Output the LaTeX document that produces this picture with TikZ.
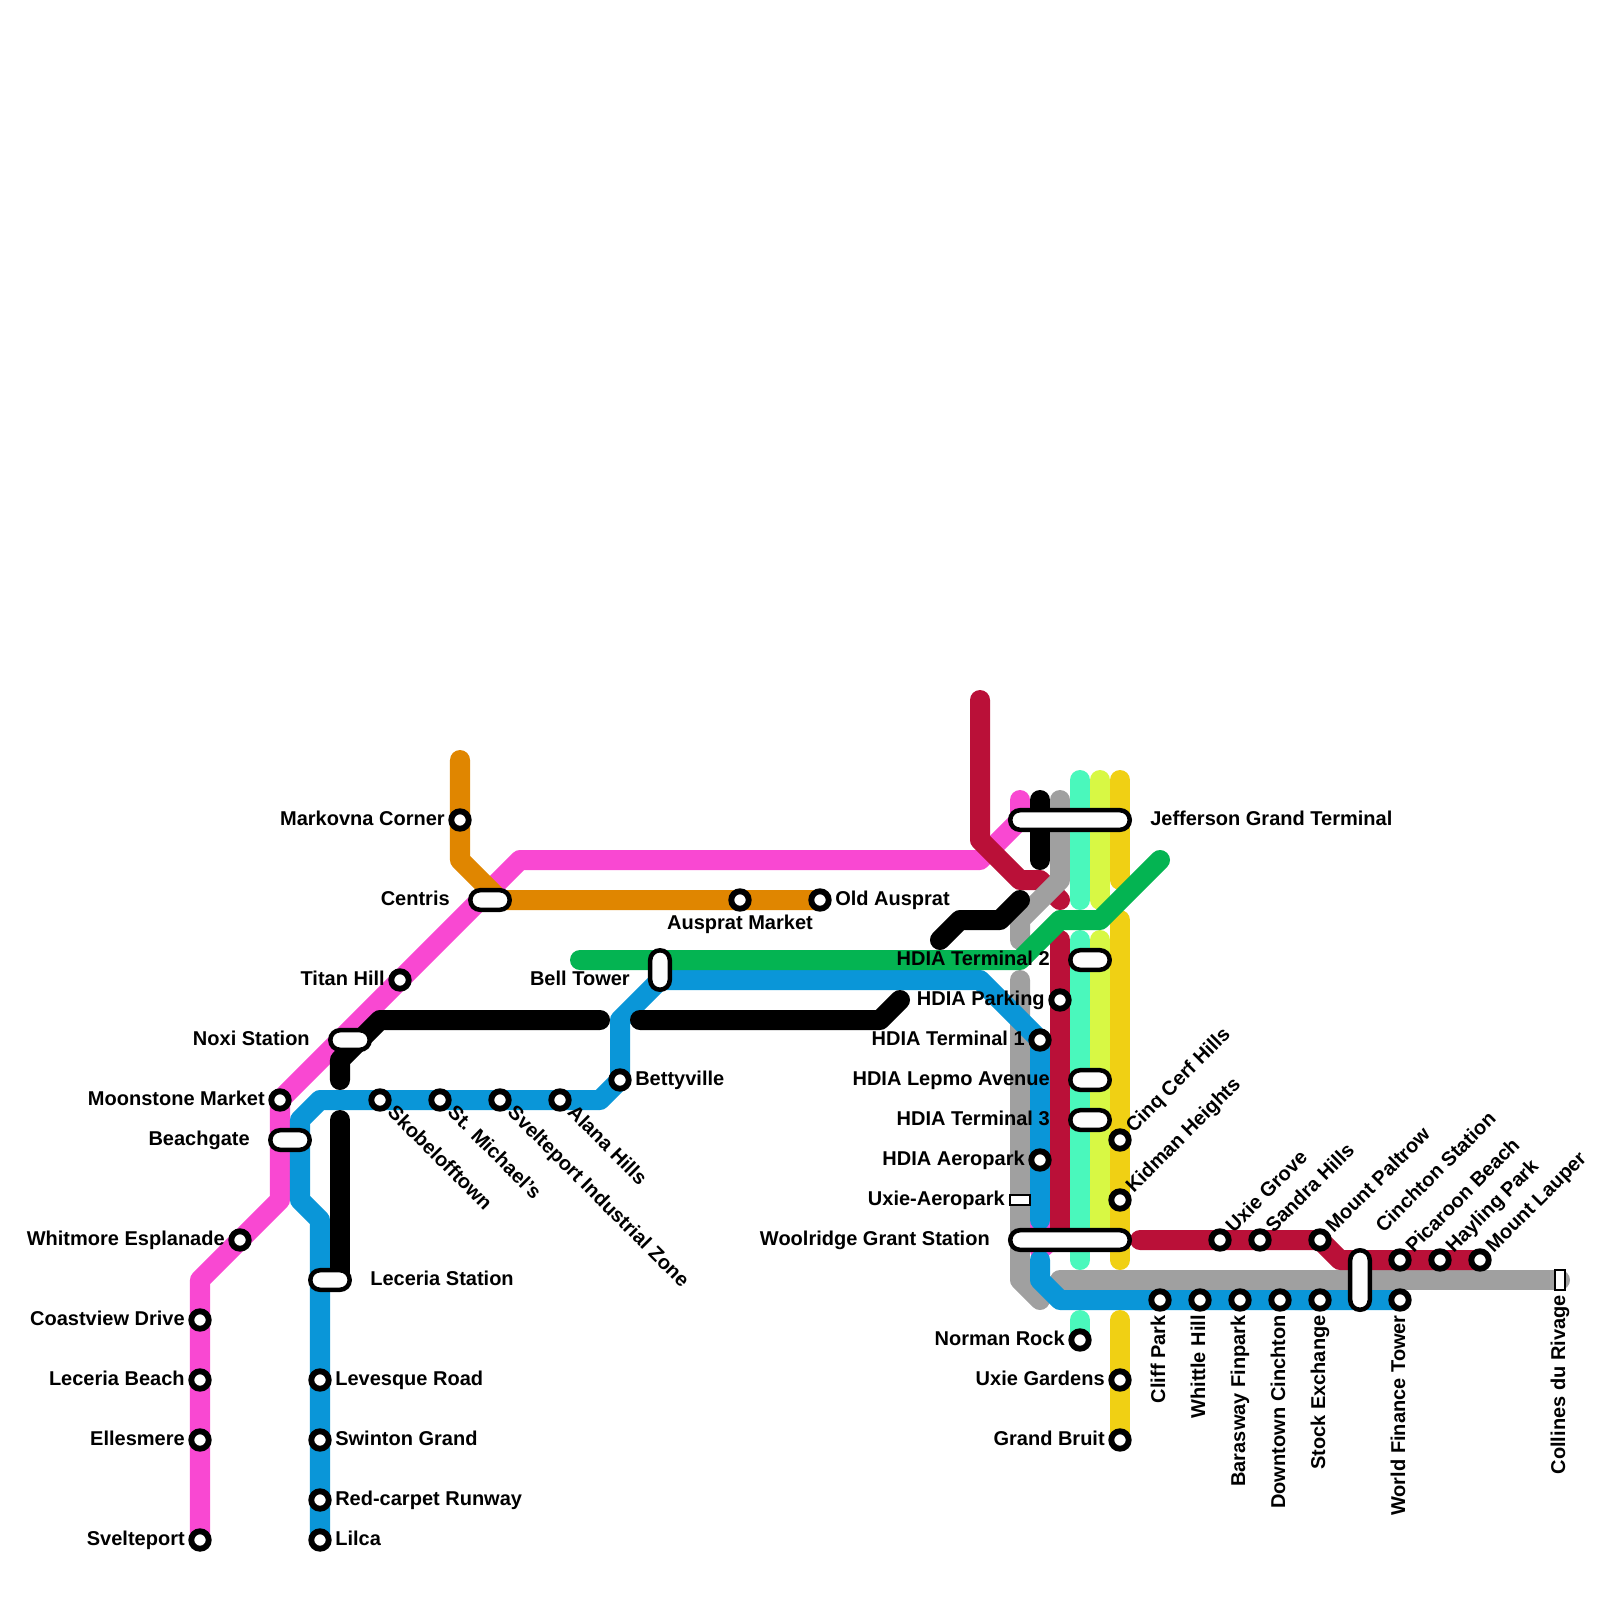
\documentclass[tikz,border=0pt]{standalone}
\usepackage{fontspec}
\setmainfont{Liberation Sans}
\usetikzlibrary{backgrounds}
\definecolor{metropink}{RGB}{249,72,210}
\definecolor{metroblue}{RGB}{10,150,216}
\definecolor{metrored}{RGB}{186,16,56}
\definecolor{metroorange}{RGB}{224,134,0}
\definecolor{metrogreen}{RGB}{4,180,82}
\definecolor{metromint}{RGB}{74,248,188}
\definecolor{metrolime}{RGB}{216,248,68}
\definecolor{metroyellow}{RGB}{240,208,20}
\definecolor{metrogrey}{RGB}{160,160,160}
\tikzset{
    metroline/.style={line width=14.23pt, line cap=round, line join=round, color=#1},
    stop/.style={circle, draw=black, fill=white, line width=4.2pt, minimum size=12.4pt, inner sep=0pt},
    hub/.style={rectangle, rounded corners=6.9pt, draw=black, fill=white, line width=3.2pt, minimum width=#1, minimum height=13.9pt, inner sep=0pt},
    vhub/.style={rectangle, rounded corners=6.9pt, draw=black, fill=white, line width=3.2pt, minimum height=#1, minimum width=13.9pt, inner sep=0pt},
    smallstop/.style={rectangle, draw=black, fill=white, line width=1.5pt, inner sep=0pt},
    lbl/.style={font=\bfseries\fontsize{14.23}{16}\selectfont, inner sep=0pt, text=black, text height=10.2pt, text depth=3pt},
    lblleft/.style={lbl, anchor=east},
    lblright/.style={lbl, anchor=west},
    lblup/.style={lbl, anchor=west, rotate=45},
    lbldown/.style={lbl, anchor=west, rotate=-45},
    lblvert/.style={lbl, anchor=east, rotate=90}
}
\begin{document}
\begin{tikzpicture}[x=0.025cm, y=-0.025cm]
    \useasboundingbox (0,0) rectangle (1600,1600);
    % stations
    \node[stop] (svelteport) at (200,1540) {};
    \node[stop] (ellesmere) at (200,1440) {};
    \node[stop] (leceriabeach) at (200,1380) {};
    \node[stop] (coastview) at (200,1320) {};
    \node[stop] (whitmore) at (240,1240) {};
    \node[stop] (moonstone) at (280,1100) {};
    \node[stop] (titanhill) at (400,980) {};
    \node[stop] (markovna) at (460,820) {};
    \node[stop] (auspratmarket) at (740,900) {};
    \node[stop] (oldausprat) at (820,900) {};
    \node[stop] (lilca) at (320,1540) {};
    \node[stop] (redcarpet) at (320,1500) {};
    \node[stop] (swinton) at (320,1440) {};
    \node[stop] (levesque) at (320,1380) {};
    \node[stop] (skobelofftown) at (380,1100) {};
    \node[stop] (stmichaels) at (440,1100) {};
    \node[stop] (industrial) at (500,1100) {};
    \node[stop] (alana) at (560,1100) {};
    \node[stop] (bettyville) at (620,1080) {};
    \node[stop] (parking) at (1060,1000) {};
    \node[stop] (terminalone) at (1040,1040) {};
    \node[stop] (aeropark) at (1040,1160) {};
    \node[stop] (cinqcerf) at (1120,1140) {};
    \node[stop] (kidman) at (1120,1200) {};
    \node[stop] (normanrock) at (1080,1340) {};
    \node[stop] (uxiegardens) at (1120,1380) {};
    \node[stop] (grandbruit) at (1120,1440) {};
    \node[stop] (cliffpark) at (1160,1300) {};
    \node[stop] (whittle) at (1200,1300) {};
    \node[stop] (barasway) at (1240,1300) {};
    \node[stop] (downtown) at (1280,1300) {};
    \node[stop] (stockexchange) at (1320,1300) {};
    \node[stop] (worldfinance) at (1400,1300) {};
    \node[stop] (uxiegrove) at (1220,1240) {};
    \node[stop] (sandra) at (1260,1240) {};
    \node[stop] (paltrow) at (1320,1240) {};
    \node[stop] (picaroon) at (1400,1260) {};
    \node[stop] (hayling) at (1440,1260) {};
    \node[stop] (lauper) at (1480,1260) {};
    % interchanges
    \node[hub=28pt] (beachgate) at (290,1140) {};
    \node[hub=28pt] (noxi) at (350,1040) {};
    \node[hub=28pt] (centris) at (490,900) {};
    \node[hub=28pt] (leceriast) at (330,1280) {};
    \node[vhub=28pt] (belltower) at (660,970) {};
    \node[vhub=42.3pt] (cinchton) at (1360,1280) {};
    \node[hub=85pt] (jefferson) at (1070,820) {};
    \node[hub=85pt] (woolridge) at (1070,1240) {};
    \node[hub=28pt] (terminaltwo) at (1090,960) {};
    \node[hub=28pt] (lepmo) at (1090,1080) {};
    \node[hub=28pt] (terminalthree) at (1090,1120) {};
    \node[smallstop, minimum width=14.5pt, minimum height=7pt] (uxieaero) at (1020,1200) {};
    \node[smallstop, minimum width=7pt, minimum height=14.5pt] (collines) at (1560,1280) {};
    % lines
    \begin{scope}[on background layer]
        \draw[metroline=metropink] (1040,1220) -- (1040,1250) -- (1060,1232);
        \draw[metroline=metropink] (svelteport.center) -- (200,1280) -- (280,1200) -- (moonstone.center) -- (520,860) -- (980,860) -- (1020,820) -- (1020,800);
        \draw[metroline=metroorange] (460,760) -- (460,860) -- (500,900) -- (oldausprat.center);
        \draw[metroline=metrored] (980,700) -- (980,840) -- (1020,880) -- (1040,880) -- (1060,900);
        \draw[metroline=metrogrey] (1020,980) -- (1020,1280) -- (1040,1300);
        \draw[metroline=metrogrey] (1060,1280) -- (collines.center);
        \draw[metroline=metrogrey] (1060,800) -- (1060,880) -- (1020,920) -- (1020,940);
        \draw[metroline=metroblue] (lilca.center) -- (320,1220) -- (300,1200) -- (300,1120) -- (320,1100) -- (600,1100) -- (bettyville.center) -- (620,1020) -- (660,980) -- (980,980) -- (terminalone.center) -- (1040,1220);
        \draw[metroline=metroblue] (1040,1260) -- (1040,1280) -- (1060,1300) -- (worldfinance.center);
        \draw[metroline=metrored] (1060,940) -- (1060,1240);
        \draw[metroline=metrored] (1140,1240) -- (paltrow.center) -- (1340,1260) -- (lauper.center);
        \draw[metroline=black] (1040,800) -- (1040,860);
        \draw[metroline=black] (940,940) -- (960,920) -- (1000,920) -- (1020,900);
        \draw[metroline=black] (340,1080) -- (340,1060) -- (380,1020) -- (600,1020);
        \draw[metroline=black] (640,1020) -- (880,1020) -- (900,1000);
        \draw[metroline=black] (340,1120) -- (340,1280);
        \draw[metroline=metromint] (1080,780) -- (1080,900);
        \draw[metroline=metromint] (1080,940) -- (1080,1260);
        \draw[metroline=metromint] (1080,1320) -- (normanrock.center);
        \draw[metroline=metrolime] (1100,780) -- (1100,900);
        \draw[metroline=metrolime] (1100,940) -- (1100,1240);
        \draw[metroline=metroyellow] (1120,780) -- (1120,880);
        \draw[metroline=metroyellow] (1120,920) -- (1120,1260);
        \draw[metroline=metroyellow] (1120,1320) -- (grandbruit.center);
        \draw[metroline=metrogreen] (580,960) -- (1020,960) -- (1060,920) -- (1100,920) -- (1160,860);
    \end{scope}
    % labels
    \node[lblleft] (lsvelteport) at (185,1540) {Svelteport};
    \node[lblleft] (lellesmere) at (185,1440) {Ellesmere};
    \node[lblleft] (lleceriabeach) at (185,1380) {Leceria Beach};
    \node[lblleft] (lcoastview) at (185,1320) {Coastview Drive};
    \node[lblleft] (lwhitmore) at (225,1240) {Whitmore Esplanade};
    \node[lblleft] (lmoonstone) at (265,1100) {Moonstone Market};
    \node[lblleft] (lbeachgate) at (250,1140) {Beachgate};
    \node[lblleft] (lnoxi) at (310,1040) {Noxi Station};
    \node[lblleft] (ltitanhill) at (385,980) {Titan Hill};
    \node[lblleft] (lcentris) at (450,900) {Centris};
    \node[lblleft] (lmarkovna) at (445,820) {Markovna Corner};
    \node[lblleft] (lbelltower) at (630,980) {Bell Tower};
    \node[lblleft] (lterminaltwo) at (1050,960) {HDIA Terminal 2};
    \node[lblleft] (lparking) at (1045,1000) {HDIA Parking};
    \node[lblleft] (lterminalone) at (1025,1040) {HDIA Terminal 1};
    \node[lblleft] (llepmo) at (1050,1080) {HDIA Lepmo Avenue};
    \node[lblleft] (lterminalthree) at (1050,1120) {HDIA Terminal 3};
    \node[lblleft] (laeropark) at (1025,1160) {HDIA Aeropark};
    \node[lblleft] (luxieaero) at (1005,1200) {Uxie-Aeropark};
    \node[lblleft] (lwoolridge) at (990,1240) {Woolridge Grant Station};
    \node[lblleft] (lnormanrock) at (1065,1340) {Norman Rock};
    \node[lblleft] (luxiegardens) at (1105,1380) {Uxie Gardens};
    \node[lblleft] (lgrandbruit) at (1105,1440) {Grand Bruit};
    \node[lblright] (llilca) at (335,1540) {Lilca};
    \node[lblright] (lredcarpet) at (335,1500) {Red-carpet Runway};
    \node[lblright] (lswinton) at (335,1440) {Swinton Grand};
    \node[lblright] (llevesque) at (335,1380) {Levesque Road};
    \node[lblright] (lleceriast) at (370,1280) {Leceria Station};
    \node[lblright] (lbettyville) at (635,1080) {Bettyville};
    \node[lblright] (loldausprat) at (835,900) {Old Ausprat};
    \node[lblright] (ljefferson) at (1150,820) {Jefferson Grand Terminal};
    \node[lbl] (lauspratmarket) at (740,924) {Ausprat Market};
    \node[lbldown] (lskobelofftown) at (390,1110) {Skobelofftown};
    \node[lbldown] (lstmichaels) at (450,1110) {St. Michael's};
    \node[lbldown] (lindustrial) at (510,1110) {Svelteport Industrial Zone};
    \node[lbldown] (lalana) at (570,1110) {Alana Hills};
    \node[lblup] (lcinqcerf) at (1130,1130) {Cinq Cerf Hills};
    \node[lblup] (lkidman) at (1130,1190) {Kidman Heights};
    \node[lblup] (luxiegrove) at (1230,1230) {Uxie Grove};
    \node[lblup] (lsandra) at (1270,1230) {Sandra Hills};
    \node[lblup] (lpaltrow) at (1330,1230) {Mount Paltrow};
    \node[lblup] (lcinchton) at (1380,1230) {Cinchton Station};
    \node[lblup] (lpicaroon) at (1410,1250) {Picaroon Beach};
    \node[lblup] (lhayling) at (1450,1250) {Hayling Park};
    \node[lblup] (llauper) at (1490,1250) {Mount Lauper};
    \node[lblvert] (lcliffpark) at (1160,1315) {Cliff Park};
    \node[lblvert] (lwhittle) at (1200,1315) {Whittle Hill};
    \node[lblvert] (lbarasway) at (1240,1315) {Barasway Finpark};
    \node[lblvert] (ldowntown) at (1280,1315) {Downtown Cinchton};
    \node[lblvert] (lstockexchange) at (1320,1315) {Stock Exchange};
    \node[lblvert] (lworldfinance) at (1400,1315) {World Finance Tower};
    \node[lblvert] (lcollines) at (1560,1295) {Collines du Rivage};
\end{tikzpicture}
\end{document}
